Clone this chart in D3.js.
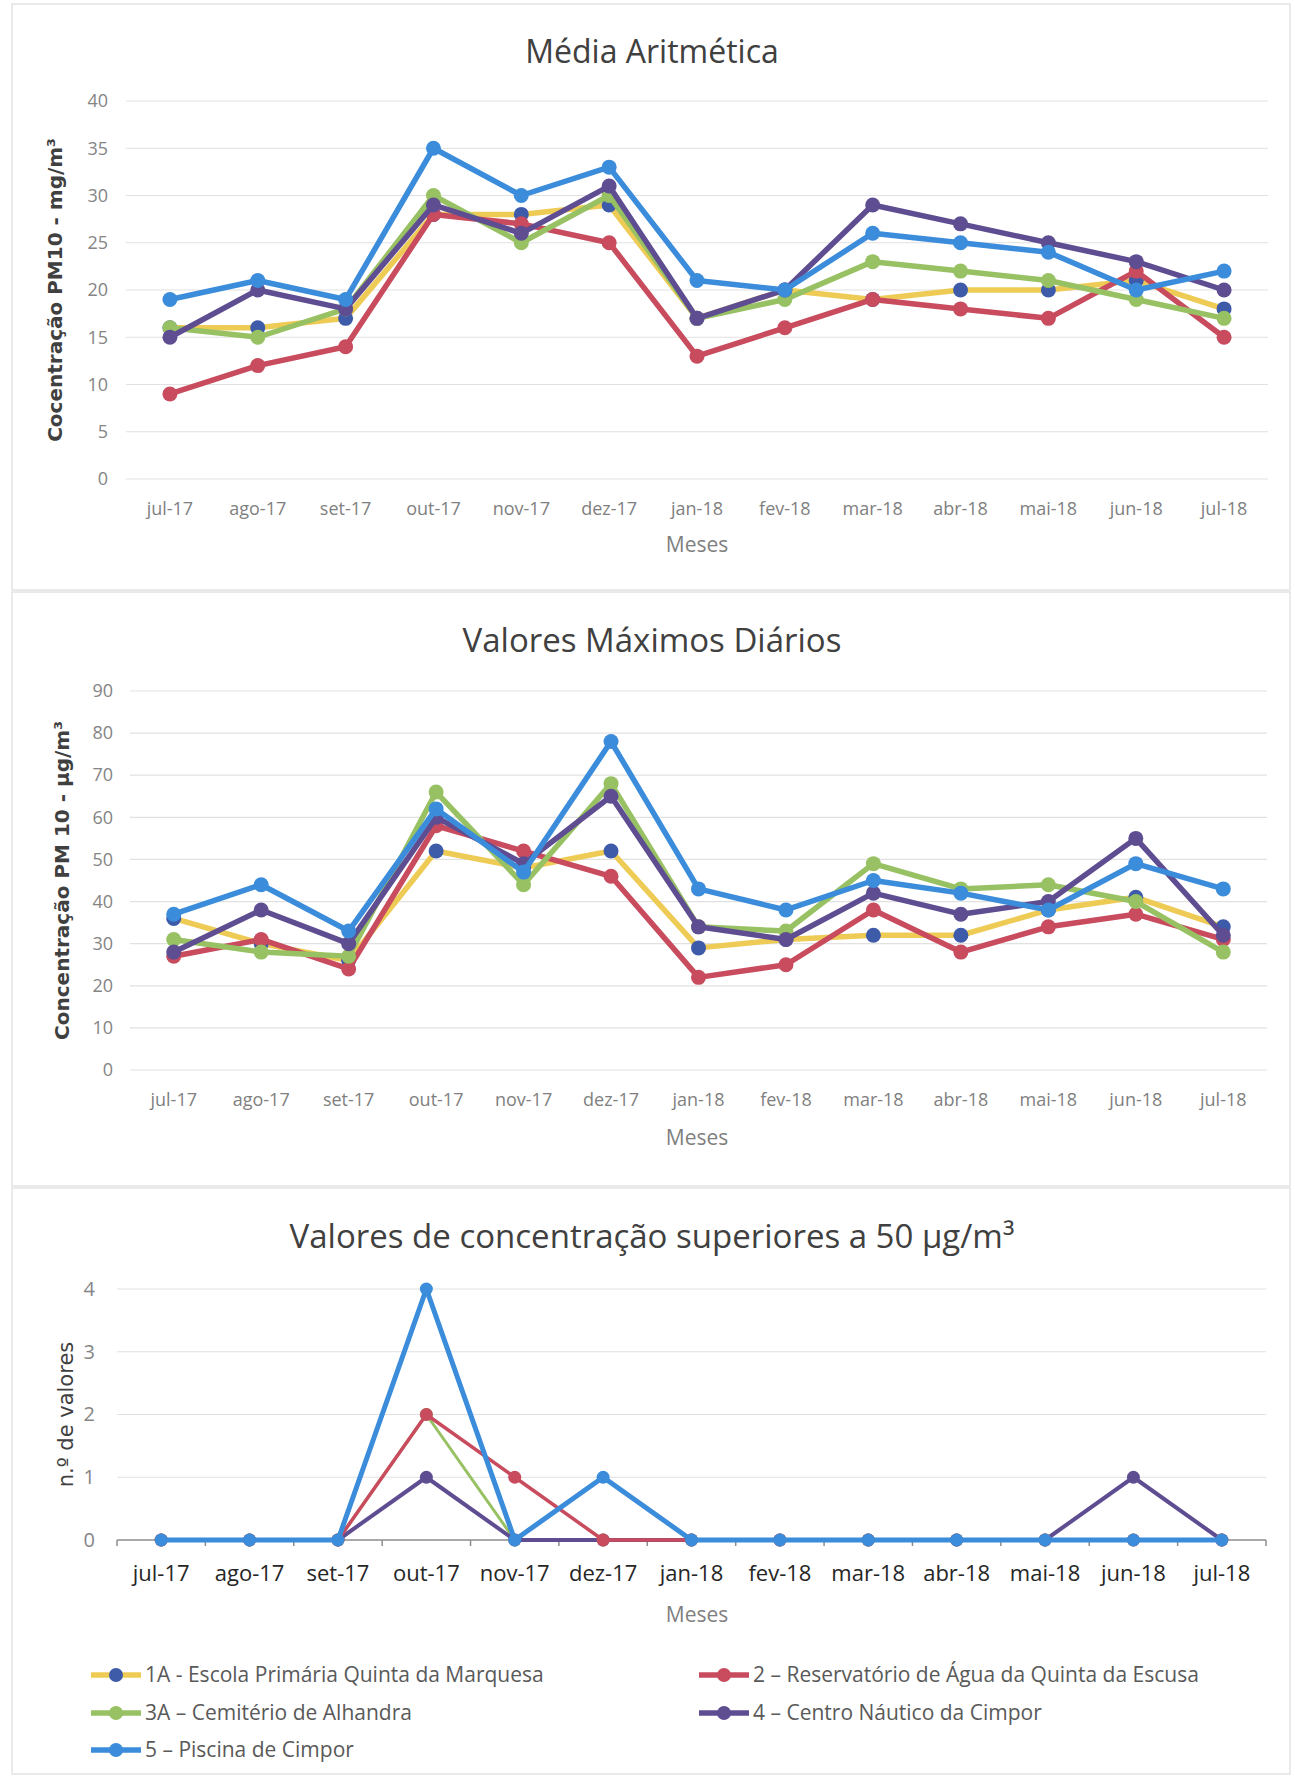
<!DOCTYPE html>
<html>
<head>
<meta charset="utf-8">
<script src="https://cdn.jsdelivr.net/npm/d3@7"></script>
<style>
  body { margin: 0; background: #fff; }
  svg text { font-family: "Open Sans", sans-serif; }
</style>
</head>
<body>
<script>
// months on the x axis (same for the three charts)
var meses = ["jul-17", "ago-17", "set-17", "out-17", "nov-17", "dez-17", "jan-18", "fev-18", "mar-18", "abr-18", "mai-18", "jun-18", "jul-18"];

var estacoes = ["1A - Escola Primária Quinta da Marquesa", "2 – Reservatório de Água da Quinta da Escusa",
  "3A – Cemitério de Alhandra", "4 – Centro Náutico da Cimpor", "5 – Piscina de Cimpor"];

// Média Aritmética
var media1A = [16, 16, 17, 28, 28, 29, 17, 20, 19, 20, 20, 21, 18];
var media2 = [9, 12, 14, 28, 27, 25, 13, 16, 19, 18, 17, 22, 15];
var media3A = [16, 15, 18, 30, 25, 30, 17, 19, 23, 22, 21, 19, 17];
var media4 = [15, 20, 18, 29, 26, 31, 17, 20, 29, 27, 25, 23, 20];
var media5 = [19, 21, 19, 35, 30, 33, 21, 20, 26, 25, 24, 20, 22];

// Valores Máximos Diários
var max1A = [36, 30, 26, 52, 48, 52, 29, 31, 32, 32, 38, 41, 34];
var max2 = [27, 31, 24, 58, 52, 46, 22, 25, 38, 28, 34, 37, 31];
var max3A = [31, 28, 27, 66, 44, 68, 34, 33, 49, 43, 44, 40, 28];
var max4 = [28, 38, 30, 60, 49, 65, 34, 31, 42, 37, 40, 55, 32];
var max5 = [37, 44, 33, 62, 47, 78, 43, 38, 45, 42, 38, 49, 43];

// Valores superiores a 50 µg/m3 (1A not visible in the chart)
var sup1A = [null, null, null, null, null, null, null, null, null, null, null, null, null];
var sup2 = [0, 0, 0, 2, 1, 0, 0, 0, 0, 0, 0, 0, 0];
var sup3A = [0, 0, 0, 2, 0, 0, 0, 0, 0, 0, 0, 0, 0];
var sup4 = [0, 0, 0, 1, 0, 0, 0, 0, 0, 0, 0, 1, 0];
var sup5 = [0, 0, 0, 4, 0, 1, 0, 0, 0, 0, 0, 0, 0];

// y tick values
var ticksMedia = [0, 5, 10, 15, 20, 25, 30, 35, 40];
var ticksMax = [0, 10, 20, 30, 40, 50, 60, 70, 80, 90];
var ticksSup = [0, 1, 2, 3, 4];

// colours: line, marker
var linhaCor = ["#eecb55", "#c84b5e", "#97c162", "#5f4d92", "#3b8cda"];
var marcaCor = ["#3e5ba9", "#c84b5e", "#97c162", "#5f4d92", "#3b8cda"];

var svg = d3.select("body").append("svg").attr("width", 1295).attr("height", 1778);

// panel borders
[[12, 4, 1278, 586], [12, 592, 1278, 594], [12, 1188, 1278, 586]].forEach(function(p) {
  svg.append("rect").attr("x", p[0]).attr("y", p[1]).attr("width", p[2]).attr("height", p[3])
    .attr("fill", "none").attr("stroke", "#e3e3e3").attr("stroke-width", 1.5);
});

var graficos = [
  { titulo: "Média Aritmética", ty: 63, tsize: 32, ylab: "Cocentração PM10 - mg/m³", ylx: 62, ylsize: 20,
    top: 101, bottom: 479, left: 126, right: 1268, ticks: ticksMedia, yoff: 18, ytsize: 18,
    series: [media1A, media2, media3A, media4, media5], ordem: [0, 1, 2, 3, 4], lw: [5.5, 5.5, 5.5, 5.5, 5.5], r: 7.5,
    xly: 515, xlsize: 18, xlcor: "#7f7f7f", mesesY: 552, eixo: false },
  { titulo: "Valores Máximos Diários", ty: 652, tsize: 33, ylab: "Concentração PM 10 - µg/m³", ylx: 69, ylsize: 20,
    top: 691, bottom: 1070, left: 130, right: 1267, ticks: ticksMax, yoff: 17, ytsize: 18,
    series: [max1A, max2, max3A, max4, max5], ordem: [0, 1, 2, 3, 4], lw: [5.5, 5.5, 5.5, 5.5, 5.5], r: 7.5,
    xly: 1106, xlsize: 18, xlcor: "#7f7f7f", mesesY: 1145, eixo: false },
  { titulo: "Valores de concentração superiores a 50 µg/m³", ty: 1248, tsize: 33, ylab: "n.º de valores", ylx: 73, ylsize: 21,
    top: 1289, bottom: 1540, left: 117, right: 1266, ticks: ticksSup, yoff: 22, ytsize: 20,
    series: [sup1A, sup2, sup3A, sup4, sup5], ordem: [0, 2, 3, 1, 4], lw: [3, 3.5, 3, 4, 5], r: 6.5,
    xly: 1581, xlsize: 22, xlcor: "#262626", mesesY: 1622, eixo: true }
];

graficos.forEach(function(g, gi) {
  var x = d3.scaleBand().domain(meses).range([g.left, g.right]);
  var cx = function(m) { return x(m) + x.bandwidth() / 2; };
  var y = d3.scaleLinear().domain([0, d3.max(g.ticks)]).range([g.bottom, g.top]);
  var gr = svg.append("g");

  // title
  gr.append("text").attr("x", 652).attr("y", g.ty).attr("text-anchor", "middle")
    .attr("font-size", g.tsize).attr("fill", "#404040").text(g.titulo);

  // grid
  gr.selectAll(".grid").data(g.ticks.filter(function(t) { return !(g.eixo && t == 0); })).enter().append("line")
    .attr("x1", g.left).attr("x2", g.right)
    .attr("y1", function(t) { return y(t); }).attr("y2", function(t) { return y(t); })
    .attr("stroke", "#e1e1e1").attr("stroke-width", 1.2);

  // y axis labels
  var ya = gr.append("g").attr("transform", "translate(" + (g.left - g.yoff) + ",0)")
    .call(d3.axisLeft(y).tickValues(g.ticks).tickFormat(d3.format("d")).tickSize(0).tickPadding(0));
  ya.select(".domain").remove();
  ya.selectAll("text").attr("font-size", g.ytsize).attr("fill", "#858585")
    .style("font-family", "Open Sans");

  // x axis
  if (g.eixo) {
    gr.append("line").attr("x1", g.left).attr("x2", g.right).attr("y1", g.bottom).attr("y2", g.bottom)
      .attr("stroke", "#8c8c8c").attr("stroke-width", 1.5);
    var limites = meses.map(function(m) { return x(m); }).concat([g.right]);
    gr.selectAll(".tk").data(limites).enter().append("line")
      .attr("x1", function(d) { return d; }).attr("x2", function(d) { return d; })
      .attr("y1", g.bottom).attr("y2", g.bottom + 6).attr("stroke", "#8c8c8c").attr("stroke-width", 1.5);
  }
  gr.selectAll(".xl").data(meses).enter().append("text")
    .attr("x", cx).attr("y", g.xly).attr("text-anchor", "middle")
    .attr("font-size", g.xlsize).attr("fill", g.xlcor).text(function(d) { return d; });

  gr.append("text").attr("x", 697).attr("y", g.mesesY).attr("text-anchor", "middle")
    .attr("font-size", 21).attr("fill", "#7f7f7f").text("Meses");

  // y title
  gr.append("text").attr("transform", "translate(" + g.ylx + "," + ((g.top + g.bottom) / 2) + ") rotate(-90)")
    .attr("text-anchor", "middle").attr("font-size", g.ylsize)
    .attr("font-weight", gi == 2 ? "normal" : "bold").attr("fill", "#404040")
    .style("font-family", "DejaVu Sans").text(g.ylab);

  // series
  var linha = d3.line().defined(function(d) { return d != null; })
    .x(function(d, i) { return cx(meses[i]); }).y(function(d) { return y(d); });
  g.ordem.forEach(function(si) {
    var s = g.series[si];
    gr.append("path").datum(s).attr("d", linha).attr("fill", "none")
      .attr("stroke", linhaCor[si]).attr("stroke-width", g.lw[si]).attr("stroke-linejoin", "round");
    gr.selectAll(".p" + si).data(s.map(function(v, i) { return { v: v, m: meses[i] }; })
        .filter(function(d) { return d.v != null; }))
      .enter().append("circle")
      .attr("cx", function(d) { return cx(d.m); }).attr("cy", function(d) { return y(d.v); })
      .attr("r", g.r).attr("fill", marcaCor[si]);
  });
});

// legend
var legPos = [[91, 1675], [699, 1675], [91, 1713], [699, 1713], [91, 1750]];
var leg = svg.append("g");
estacoes.forEach(function(nome, i) {
  var p = legPos[i];
  leg.append("line").attr("x1", p[0]).attr("x2", p[0] + 50).attr("y1", p[1]).attr("y2", p[1])
    .attr("stroke", linhaCor[i]).attr("stroke-width", 5.5);
  leg.append("circle").attr("cx", p[0] + 25).attr("cy", p[1]).attr("r", 7).attr("fill", marcaCor[i]);
  leg.append("text").attr("x", p[0] + 54).attr("y", p[1] + 7).attr("font-size", 21)
    .attr("fill", "#595959").text(nome);
});
</script>
</body>
</html>
